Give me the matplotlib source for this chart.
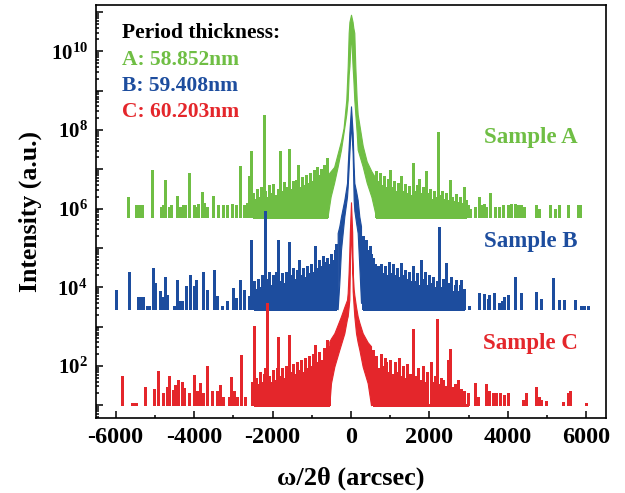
import numpy as np
import matplotlib.pyplot as plt
from matplotlib.ticker import FixedLocator, LogLocator, FuncFormatter, MultipleLocator

plt.rcParams['font.family'] = ['Liberation Serif', 'DejaVu Serif']
plt.rcParams['font.weight'] = 'bold'
plt.rcParams['axes.unicode_minus'] = False

green = '#6fbe44'
blue = '#1d4d9e'
red = '#e4262b'

# positions in arcsec, heights as log10(intensity)
# core = the two flanks of the main peak (outer edge hi, inner edge lo)

# ---- Sample A
A_floor = 5.78
A_core_x = [-600, -520, -430, -340, -255, -190, -120, -84, -59, -40, 0, 40, 59, 84, 110, 145, 170, 298, 400, 520, 640]
A_core_hi = [6.85, 6.95, 7.06, 7.40, 7.72, 8.05, 8.77, 9.62, 10.47, 10.75, 10.93, 10.75, 10.60, 10.47, 9.62, 8.77, 8.40,
             7.60, 7.20, 6.95, 6.75]
A_core_lo = [5.78, 6.30, 6.66, 7.07, 7.50, 7.93, 8.40, 8.77, 9.40, 9.62, 10.50, 9.62, 9.30, 8.77, 8.40, 7.93, 7.50,
             7.07, 6.66, 6.30, 5.78]
A_left_x = [-5690, -5480, -5400, -5330, -5060, -4850, -4780, -4740, -4650, -4590, -4440, -4350, -4290, -4230, -4120, -4010,
            -3950, -3890, -3800, -3740, -3670, -3520, -3380, -3250, -3150, -3040, -2930, -2840, -2740, -2650, -2610, -2540]
A_left_y = [6.29, 6.10, 6.10, 6.10, 6.99, 6.05, 6.10, 6.72, 6.05, 6.10, 6.31, 6.05, 6.08, 6.10, 6.90, 6.10,
            6.05, 6.12, 6.41, 6.15, 6.05, 6.33, 6.10, 6.08, 6.10, 6.12, 6.10, 7.09, 6.10, 6.15, 6.82, 7.47]
A_band_l_x = [-2500, -2450, -2400, -2350, -2300, -2270, -2230, -2180, -2130, -2080, -2030, -1980, -1930, -1870, -1820,
              -1770, -1720, -1670, -1630, -1590, -1540, -1490, -1440, -1390, -1340, -1290, -1240, -1190, -1140, -1090,
              -1040, -990, -950, -900, -860, -810, -760, -700, -610]
A_band_l_y = [6.40, 6.25, 6.50, 6.30, 6.55, 6.35, 8.39, 6.45, 6.30, 6.60, 6.40, 6.62, 6.35, 6.50, 7.47,
              6.45, 6.68, 6.40, 6.55, 7.51, 6.50, 6.70, 6.45, 6.72, 7.11, 6.55, 6.80, 6.60, 6.85, 6.65,
              6.90, 6.70, 6.99, 6.75, 7.05, 6.85, 7.00, 7.10, 7.28]
A_band_r_x = [650, 700, 750, 800, 850, 900, 950, 1000, 1050, 1100, 1150, 1200, 1240, 1275, 1320, 1370, 1420, 1470,
              1520, 1570, 1620, 1670, 1710, 1740, 1790, 1840, 1880, 1910, 1960, 2010, 2060, 2110, 2160, 2230, 2280,
              2330, 2380, 2430, 2480, 2525, 2570, 2620, 2670, 2720, 2770, 2820, 2890, 2935]
A_band_r_y = [6.95, 6.70, 6.90, 6.60, 6.82, 6.55, 6.75, 6.99, 6.55, 6.70, 6.45, 6.65, 6.40, 6.83, 6.45, 6.62, 6.40, 6.58,
              6.35, 7.17, 6.45, 6.60, 6.35, 6.75, 6.40, 6.55, 6.30, 6.95, 6.40, 6.50, 6.25, 6.45, 6.30, 7.94, 6.35,
              6.45, 6.25, 6.40, 6.22, 6.72, 6.30, 6.20, 6.38, 6.18, 6.30, 6.15, 6.56, 6.22]
A_right_x = [2980, 3040, 3150, 3260, 3320, 3380, 3440, 3550, 3660, 3780, 3870, 4000, 4080, 4170, 4250, 4340, 4420,
             4720, 4800, 5060, 5190, 5310, 5540, 5780, 5830]
A_right_y = [6.10, 6.00, 6.05, 6.30, 6.08, 6.12, 6.05, 6.40, 6.05, 6.05, 6.08, 6.10, 6.12, 6.12, 6.08, 6.10, 6.05,
             6.10, 6.00, 6.10, 6.00, 6.10, 6.10, 6.10, 6.10]

# ---- Sample B
B_floor = 3.44
B_core_x = [-340, -298, -255, -170, -102, -85, -42, 0, 42, 68, 85, 128, 170, 212, 255]
B_core_hi = [5.38, 5.55, 5.80, 6.22, 6.65, 7.07, 7.92, 8.60, 7.92, 7.07, 6.65, 6.45, 6.22, 5.80, 5.55]
B_core_lo = [3.44, 4.10, 4.95, 5.80, 6.30, 6.55, 7.40, 8.20, 7.40, 6.22, 5.95, 5.65, 5.38, 4.53, 3.60]
B_left_x = [-5990, -5655, -5440, -5390, -5340, -5290, -5200, -5140, -5050, -4990, -4870, -4820, -4740, -4690, -4520,
            -4440, -4370, -4300, -4200, -4100, -4010, -3950, -3780, -3670, -3500, -3420, -3290, -3170, -3010, -2930,
            -2820, -2740, -2610, -2540]
B_left_y = [3.93, 4.40, 3.75, 3.75, 3.72, 3.75, 3.52, 3.52, 4.49, 4.10, 3.90, 3.75, 4.27, 3.80, 3.52,
            4.19, 3.65, 3.65, 4.02, 4.31, 4.02, 4.19, 4.38, 3.93, 4.44, 3.78, 3.52, 3.65, 3.98, 3.72,
            4.19, 3.93, 3.78, 5.21]
B_band_l_x = [-2480, -2430, -2380, -2330, -2280, -2240, -2200, -2150, -2100, -2050, -2000, -1950, -1900, -1850, -1800,
              -1750, -1700, -1650, -1610, -1570, -1520, -1470, -1420, -1370, -1320, -1270, -1220, -1170, -1120, -1070,
              -1020, -970, -910, -860, -810, -760, -710, -660, -610, -560, -510, -460, -410, -370]
B_band_l_y = [4.15, 3.95, 4.20, 4.00, 4.30, 4.05, 5.93, 4.20, 4.38, 4.05, 4.30, 4.10, 4.40, 5.21, 4.15,
              4.35, 4.10, 4.40, 4.20, 5.16, 4.30, 4.50, 4.20, 4.45, 4.70, 4.30, 4.50, 4.25, 4.55, 4.35,
              4.60, 4.40, 5.04, 4.50, 4.70, 4.55, 4.80, 4.65, 4.75, 4.60, 4.85, 4.70, 4.95, 5.10]
B_band_r_x = [300, 340, 390, 430, 480, 520, 560, 600, 650, 700, 760, 810, 860, 910, 960, 1010, 1060, 1110, 1160, 1210,
              1275, 1330, 1380, 1430, 1480, 1530, 1570, 1620, 1670, 1720, 1790, 1840, 1890, 1940, 2000, 2040, 2090,
              2130, 2180, 2250, 2300, 2350, 2420, 2470, 2510, 2550, 2600, 2640, 2680, 2730, 2770, 2810, 2850, 2890]
B_band_r_y = [5.30, 5.05, 5.20, 4.95, 5.05, 4.85, 4.75, 4.60, 4.45, 4.55, 4.60, 4.35, 4.55, 4.30, 4.65, 4.35, 4.60,
              4.30, 4.50, 4.25, 4.61, 4.30, 4.45, 4.20, 4.40, 4.15, 4.53, 4.15, 4.35, 4.05, 4.70, 4.20, 4.40, 4.05,
              4.30, 4.10, 4.25, 4.00, 4.15, 5.53, 4.00, 4.20, 4.61, 3.95, 4.10, 4.27, 3.90, 4.05, 4.19, 3.90, 4.05,
              4.19, 3.85, 3.95]
B_right_x = [3020, 3270, 3400, 3480, 3530, 3650, 3780, 3840, 3910, 4000, 4170, 4340, 4720, 4850, 5140, 5310, 5440,
             5700, 5870, 5950, 6030]
B_right_y = [3.51, 3.85, 3.82, 3.70, 3.80, 3.85, 3.60, 3.65, 3.75, 3.80, 4.27, 3.85, 3.88, 3.70, 4.24, 3.68, 3.68,
             3.68, 3.52, 3.52, 3.52]

# ---- Sample C
C_floor = 1.0
C_core_x = [-553, -510, -425, -298, -255, -170, -102, -85, -60, -43, -30, 0, 30, 43, 68, 85, 128, 170, 213, 298, 425, 510]
C_core_hi = [2.62, 2.70, 2.83, 3.15, 3.26, 3.50, 3.68, 3.85, 4.40, 4.90, 5.40, 6.16, 5.40, 4.40, 3.95, 3.80, 3.50, 3.26,
             3.10, 2.83, 2.60, 2.50]
C_core_lo = [1.00, 1.56, 1.98, 2.41, 2.55, 2.83, 3.20, 3.26, 3.50, 3.68, 4.40, 5.60, 4.60, 3.90, 3.50, 3.26, 2.83, 2.60,
             2.41, 1.98, 1.56, 1.00]
C_left_x = [-5840, -5590, -5540, -5480, -5250, -5020, -4920, -4780, -4700, -4630, -4540, -4480, -4400, -4310, -4250,
            -4140, -4010, -3930, -3840, -3760, -3670, -3550, -3420, -3330, -3250, -3120, -3060, -2980, -2910, -2800,
            -2700, -2530]
C_left_y = [1.73, 1.05, 1.05, 1.05, 1.47, 1.42, 1.86, 1.30, 1.47, 1.73, 1.39, 1.52, 1.64, 1.60, 1.43,
            1.30, 1.77, 1.35, 1.56, 1.30, 2.00, 1.35, 1.35, 1.52, 1.22, 1.22, 1.71, 1.35, 1.22, 2.28,
            1.22, 1.60]
C_band_l_x = [-2470, -2420, -2370, -2320, -2270, -2220, -2190, -2140, -2090, -2040, -1990, -1940, -1890, -1850, -1800,
              -1750, -1700, -1650, -1610, -1570, -1520, -1470, -1420, -1370, -1320, -1270, -1220, -1170, -1120, -1070,
              -1020, -970, -910, -860, -810, -760, -700, -610, -560]
C_band_l_y = [3.02, 1.70, 1.55, 1.85, 1.60, 1.80, 1.95, 3.59, 1.75, 1.60, 1.90, 1.65, 1.95, 2.73, 1.75,
              1.95, 1.70, 2.00, 1.80, 2.79, 1.85, 2.05, 1.80, 2.10, 1.90, 2.15, 1.85, 2.20, 1.95, 2.25,
              2.00, 2.30, 2.53, 2.10, 2.35, 2.15, 2.45, 2.66, 2.50]
C_band_r_x = [560, 610, 650, 700, 760, 820, 870, 900, 950, 1000, 1050, 1110, 1160, 1220, 1270, 1330, 1380, 1440, 1500,
              1570, 1620, 1700, 1750, 1830, 1880, 1950, 2040, 2090, 2140, 2190, 2250, 2300, 2340, 2400, 2460, 2530,
              2590, 2650, 2720, 2800, 2870, 2970]
C_band_r_y = [2.40, 2.20, 2.25, 1.95, 2.30, 2.00, 2.20, 2.10, 1.85, 2.15, 1.80, 2.10, 1.85, 2.20, 1.75, 2.00, 1.70,
              2.05, 1.80, 2.93, 1.75, 1.95, 1.65, 2.00, 1.60, 1.85, 2.10, 1.60, 1.75, 3.19, 1.55, 1.70, 1.65, 1.50,
              2.15, 2.44, 1.45, 1.55, 1.65, 1.40, 1.35, 1.30]
C_right_x = [3160, 3230, 3440, 3530, 3610, 3700, 3800, 3900, 4010, 4380, 4460, 4720, 4800, 4850, 4970, 5400, 5530,
             5570, 6000]
C_right_y = [1.57, 1.20, 1.53, 1.35, 1.30, 1.30, 1.30, 1.25, 1.30, 1.13, 1.30, 1.45, 1.20, 1.13, 1.10, 1.08, 1.30,
             1.35, 1.05]

period_lines = ['A: 58.852nm', 'B: 59.408nm', 'C: 60.203nm']
sample_names = ['Sample A', 'Sample B', 'Sample C']


def drawSample(ax, floor, core_x, core_hi, core_lo, spikes, bands, color):
    base = 10 ** floor
    # floor line under the dense part of the scan
    for bx in bands:
        ax.hlines(base, min(bx), max(bx), color=color, lw=0.8, antialiased=False)
    for sx, sy in spikes:
        ax.vlines(sx, base, 10 ** np.array(sy), color=color, lw=0.75, antialiased=False)
    ax.fill_between(core_x, 10 ** np.array(core_lo), 10 ** np.array(core_hi),
                    color=color, lw=0.8)


fig = plt.figure(figsize=(6.25, 4.93), dpi=100)
ax = fig.add_axes([0.1536, 0.1527, 0.816, 0.837])

drawSample(ax, A_floor, A_core_x, A_core_hi, A_core_lo,
           [(A_left_x, A_left_y), (A_band_l_x, A_band_l_y), (A_band_r_x, A_band_r_y), (A_right_x, A_right_y)],
           [A_band_l_x, A_band_r_x], green)
drawSample(ax, B_floor, B_core_x, B_core_hi, B_core_lo,
           [(B_left_x, B_left_y), (B_band_l_x, B_band_l_y), (B_band_r_x, B_band_r_y), (B_right_x, B_right_y)],
           [B_band_l_x, B_band_r_x], blue)
drawSample(ax, C_floor, C_core_x, C_core_hi, C_core_lo,
           [(C_left_x, C_left_y), (C_band_l_x, C_band_l_y), (C_band_r_x, C_band_r_y), (C_right_x, C_right_y)],
           [C_band_l_x, C_band_r_x], red)

ax.set_yscale('log')
ax.set_xlim(-6500, 6500)
ax.set_ylim(4.8, 1.5e11)

ax.xaxis.set_major_locator(MultipleLocator(2000))
ax.xaxis.set_minor_locator(MultipleLocator(1000))
ax.yaxis.set_major_locator(FixedLocator([10.0 ** k for k in range(1, 12)]))
ax.yaxis.set_minor_locator(LogLocator(base=10, subs=np.arange(2, 10), numticks=100))


def expLabel(v, pos):
    e = int(round(np.log10(v)))
    if e % 2:
        return ''
    return r'$\mathdefault{10^{%d}}$' % e


ax.yaxis.set_major_formatter(FuncFormatter(expLabel))
ax.tick_params(which='both', direction='in', top=False, right=False, width=1.1)
ax.tick_params(which='major', length=5)
ax.tick_params(which='minor', length=2.5)
ax.tick_params(axis='x', labelsize=17.5, pad=7)
ax.tick_params(axis='y', labelsize=15, pad=6)
for s in ax.spines.values():
    s.set_linewidth(1.2)

ax.set_xlabel('ω/2θ (arcsec)', fontsize=19, fontweight='bold', va='center')
ax.xaxis.set_label_coords(0.5, -0.146)
ax.set_ylabel('Intensity (a.u.)', fontsize=18.5, fontweight='bold', va='center')
ax.yaxis.set_label_coords(-0.129, 0.5)

ax.text(0.051, 0.932, 'Period thickness:', transform=ax.transAxes, fontsize=15.5, va='center', color='black')
for i, (label, c) in enumerate(zip(period_lines, [green, blue, red])):
    ax.text(0.051, 0.867 - i * 0.063, label, transform=ax.transAxes, fontsize=15.5, va='center', color=c)
for name, c, yy in zip(sample_names, [green, blue, red], [0.678, 0.428, 0.181]):
    ax.text(0.945, yy, name, transform=ax.transAxes, fontsize=16.5, va='center', ha='right', color=c)

fig.savefig('out.png', dpi=100)
